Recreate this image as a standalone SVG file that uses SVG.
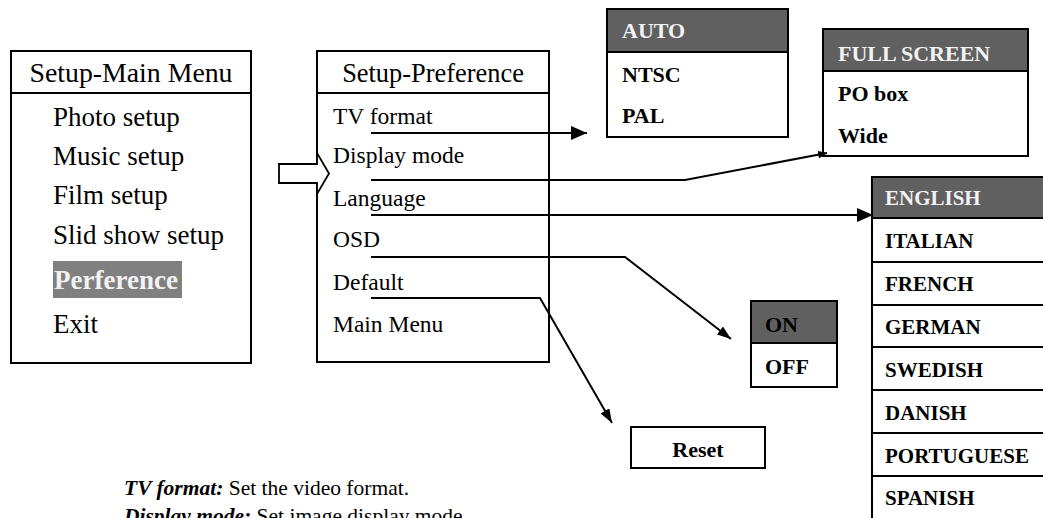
<svg xmlns="http://www.w3.org/2000/svg" width="1043" height="518" viewBox="0 0 1043 518">
<style>
.box{fill:#fff;stroke:#000;stroke-width:2}
.div{stroke:#000;stroke-width:2}
.hdr{fill:#606060;stroke:#000;stroke-width:2}
text{font-family:"Liberation Serif","Times New Roman",Tinos,Times,"DejaVu Serif",serif;fill:#000}
.mm{font-size:27px}
.pf{font-size:23.5px}
.b{font-weight:bold}
.opt{font-size:22px;font-weight:bold}
.lang{font-size:21px;font-weight:bold}
.w{fill:#f2f2f2}
.ln{fill:none;stroke:#000;stroke-width:2}
.note{font-size:21.5px}
</style>
<defs>
<marker id="big" markerUnits="userSpaceOnUse" markerWidth="16" markerHeight="14" viewBox="0 0 16 14" refX="16" refY="7" orient="auto">
<path d="M0,0 L16,7 L0,14 Z" fill="#000"/>
</marker>
<marker id="sm" markerUnits="userSpaceOnUse" markerWidth="14" markerHeight="10" viewBox="0 0 14 10" refX="14" refY="5" orient="auto">
<path d="M0,0 L14,5 L0,10 Z" fill="#000"/>
</marker>
<marker id="tiny" markerUnits="userSpaceOnUse" markerWidth="9" markerHeight="8" viewBox="0 0 9 8" refX="9" refY="4" orient="auto">
<path d="M0,0 L9,4 L0,8 Z" fill="#000"/>
</marker>
</defs>
<rect width="1043" height="518" fill="#fff"/>

<g id="main-menu">
<rect class="box" x="11" y="51" width="240" height="312"/>
<line class="div" x1="11" y1="93" x2="251" y2="93"/>
<text class="mm" x="131" y="82" text-anchor="middle" style="font-size:27.8px">Setup-Main Menu</text>
<text class="mm" x="53" y="126">Photo setup</text>
<text class="mm" x="53" y="165">Music setup</text>
<text class="mm" x="53" y="204">Film setup</text>
<text class="mm" x="53" y="244">Slid show setup</text>
<rect x="53" y="261" width="129" height="37" fill="#808080"/>
<text class="mm b w" x="54" y="289">Perference</text>
<text class="mm" x="53" y="333">Exit</text>
</g>

<g id="preference">
<rect class="box" x="317" y="51" width="232" height="311"/>
<line class="div" x1="317" y1="93" x2="549" y2="93"/>
<text x="433" y="82" text-anchor="middle" style="font-size:26.4px">Setup-Preference</text>
<text class="pf" x="333" y="124">TV format</text>
<text class="pf" x="333" y="163">Display mode</text>
<text class="pf" x="333" y="206">Language</text>
<text class="pf" x="333" y="247">OSD</text>
<text class="pf" x="333" y="290">Default</text>
<text class="pf" x="333" y="332">Main Menu</text>
</g>

<g id="block-arrow">
<path d="M279,164 L317,164 L317,153 L329,173.5 L317,194 L317,183 L279,183 Z" fill="#fff" stroke="#000" stroke-width="1.8"/>
</g>

<g id="tv-format-options">
<rect class="box" x="607" y="9" width="181" height="128"/>
<rect class="hdr" x="607" y="9" width="181" height="43"/>
<text class="opt w" x="622" y="38">AUTO</text>
<text class="opt" x="622" y="82">NTSC</text>
<text class="opt" x="622" y="123">PAL</text>
</g>

<g id="display-mode-options">
<rect class="box" x="823" y="29" width="205" height="127"/>
<rect class="hdr" x="823" y="29" width="205" height="42"/>
<text class="opt w" x="838" y="61">FULL SCREEN</text>
<text class="opt" x="838" y="101">PO box</text>
<text class="opt" x="838" y="143">Wide</text>
</g>

<g id="language-options">
<rect class="box" x="872" y="177" width="190" height="360"/>
<rect class="hdr" x="872" y="177" width="190" height="41"/>
<line class="div" x1="872" y1="262" x2="1062" y2="262"/>
<line class="div" x1="872" y1="305" x2="1062" y2="305"/>
<line class="div" x1="872" y1="347" x2="1062" y2="347"/>
<line class="div" x1="872" y1="390" x2="1062" y2="390"/>
<line class="div" x1="872" y1="433" x2="1062" y2="433"/>
<line class="div" x1="872" y1="476" x2="1062" y2="476"/>
<text class="lang w" x="885" y="205">ENGLISH</text>
<text class="lang" x="885" y="248">ITALIAN</text>
<text class="lang" x="885" y="291">FRENCH</text>
<text class="lang" x="885" y="334">GERMAN</text>
<text class="lang" x="885" y="377">SWEDISH</text>
<text class="lang" x="885" y="420">DANISH</text>
<text class="lang" x="885" y="463">PORTUGUESE</text>
<text class="lang" x="885" y="505">SPANISH</text>
</g>

<g id="osd-options">
<rect class="box" x="751" y="301" width="86" height="86"/>
<rect class="hdr" x="751" y="301" width="86" height="42"/>
<text class="opt" x="765" y="332">ON</text>
<text class="opt" x="765" y="374">OFF</text>
</g>

<g id="reset">
<rect class="box" x="631" y="427" width="134" height="41"/>
<text class="opt" x="698" y="457" text-anchor="middle">Reset</text>
</g>

<g id="connectors">
<path class="ln" d="M371,133 L587,133" marker-end="url(#big)"/>
<path class="ln" d="M371,180 L685,180 L827,153" marker-end="url(#tiny)"/>
<path class="ln" d="M371,215 L873,215" marker-end="url(#big)"/>
<path class="ln" d="M371,257 L625,257 L731,339" marker-end="url(#sm)"/>
<path class="ln" d="M371,298 L540,298 L612,423" marker-end="url(#sm)"/>
</g>

<g id="notes">
<text class="note" x="124" y="495"><tspan font-weight="bold" font-style="italic">TV format:</tspan> Set the video format.</text>
<text class="note" x="124" y="523"><tspan font-weight="bold" font-style="italic">Display mode:</tspan> Set image display mode.</text>
</g>
</svg>
